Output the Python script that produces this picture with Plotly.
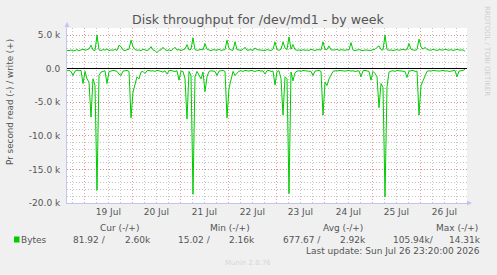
import plotly.graph_objects as go
import pandas as pd

# ---------------- data ----------------
start = pd.Timestamp("2026-07-18 15:20")
end = pd.Timestamp("2026-07-26 23:20")

# write (+) bytes per second, in thousands, hourly samples
write_k = [
    2.75, 2.70, 2.80, 2.65, 2.72, 2.85, 2.70, 2.78, 2.90, 2.75,
    2.82, 2.95, 3.50, 2.80, 2.70, 5.00, 2.80, 2.72, 2.85, 2.78,
    2.95, 2.70, 2.80, 2.75, 2.88, 2.72, 3.50, 3.30, 2.80, 2.70,
    2.85, 2.90, 4.25, 3.30, 2.85, 2.75, 2.80, 2.70, 2.90, 2.78,
    2.72, 2.85, 3.30, 2.80, 2.70, 2.40, 2.75, 2.80, 3.20, 2.85,
    2.72, 2.80, 2.70, 2.90, 3.20, 2.78, 2.85, 2.70, 2.80, 2.95,
    3.60, 2.80, 2.90, 4.60, 2.85, 2.75, 2.80, 2.90, 2.80, 3.75,
    2.90, 2.78, 2.70, 2.85, 2.80, 2.75, 2.90, 2.72, 2.80, 2.85,
    4.25, 3.00, 2.80, 2.75, 4.00, 2.85, 2.80, 2.72, 2.90, 3.20,
    2.75, 2.80, 2.85, 2.70, 3.10, 2.85, 2.78, 2.80, 2.75, 2.70,
    2.85, 2.78, 2.72, 2.90, 4.00, 2.85, 2.75, 2.90, 4.00, 3.10,
    2.85, 4.75, 2.90, 3.60, 2.85, 2.75, 2.80, 2.70, 2.85, 2.75,
    2.80, 2.72, 2.90, 2.80, 2.70, 2.85, 2.78, 2.80, 4.00, 2.90,
    2.85, 3.40, 2.80, 2.75, 2.80, 2.90, 2.72, 2.85, 2.80, 2.75,
    2.85, 2.78, 3.90, 2.80, 2.72, 2.80, 2.85, 2.75, 2.70, 2.80,
    2.75, 2.80, 2.72, 2.85, 2.90, 3.20, 3.40, 2.85, 2.80, 5.00,
    2.85, 2.75, 2.80, 2.72, 2.80, 2.85, 2.75, 2.80, 2.90, 2.80,
    2.85, 3.75, 2.90, 2.80, 2.75, 2.85, 4.40, 3.30, 2.90, 3.20,
    2.85, 2.80, 2.75, 2.90, 2.80, 2.72, 2.85, 2.80, 2.78, 2.90,
    2.80, 2.75, 2.85, 2.72, 2.80, 2.90, 2.78, 2.75, 2.80, 2.60,
]

# read (-) bytes per second, in thousands, hourly samples
read_k = [
    0.30, 0.25, 0.40, 1.00, 0.35, 0.20, 0.30, 0.25, 2.20, 0.40,
    1.50, 2.00, 7.20, 1.50, 2.50, 18.10, 1.00, 0.50, 0.40, 0.30,
    2.20, 0.40, 0.35, 0.25, 0.30, 0.40, 0.80, 1.00, 0.35, 0.30,
    0.25, 0.40, 7.30, 3.50, 2.50, 1.20, 1.50, 0.50, 0.40, 0.70,
    0.30, 0.25, 0.35, 0.30, 0.40, 0.25, 0.30, 0.35, 0.50, 0.30,
    0.80, 0.30, 0.25, 0.35, 0.40, 0.30, 1.70, 0.35, 0.40, 1.50,
    7.50, 0.40, 1.00, 18.70, 1.20, 0.40, 1.00, 1.50, 0.50, 3.40,
    1.20, 0.40, 0.30, 0.35, 0.40, 1.00, 0.35, 0.30, 0.25, 0.40,
    7.30, 2.90, 1.50, 0.40, 1.00, 0.70, 0.35, 0.30, 0.40, 0.25,
    0.30, 0.35, 0.25, 0.30, 0.40, 0.30, 0.25, 0.35, 0.30, 0.80,
    0.30, 0.25, 0.40, 0.35, 2.40, 0.40, 0.30, 1.50, 6.90, 1.20,
    1.50, 18.60, 0.50, 1.80, 0.60, 0.35, 0.30, 0.40, 0.25, 0.30,
    0.35, 0.30, 0.40, 1.00, 0.35, 0.30, 0.25, 0.40, 6.90, 2.00,
    2.50, 1.50, 1.00, 0.40, 0.30, 0.35, 0.25, 0.30, 0.40, 0.35,
    0.30, 0.25, 0.35, 0.30, 0.40, 0.35, 0.30, 1.20, 0.30, 0.25,
    0.35, 0.40, 1.70, 0.40, 0.70, 1.20, 5.80, 2.20, 2.80, 19.10,
    2.70, 0.50, 0.35, 0.30, 0.40, 0.25, 0.30, 0.35, 0.30, 0.40,
    1.30, 0.35, 0.30, 0.25, 0.40, 0.35, 6.90, 2.50, 1.80, 1.00,
    0.40, 0.30, 0.35, 0.25, 0.30, 0.40, 0.35, 0.30, 0.25, 0.35,
    0.30, 0.40, 0.35, 0.30, 0.25, 1.20, 0.35, 0.30, 0.25, 0.08,
]

times = pd.date_range(start, periods=len(write_k), freq="h")

y_tickvals = [5000, 0, -5000, -10000, -15000, -20000]
y_ticktext = ["5.0 k", "0.0", "-5.0 k", "-10.0 k", "-15.0 k", "-20.0 k"]

title_text = "Disk throughput for /dev/md1 - by week"
ylabel_text = "Pr second read (-) / write (+)"
series_name = "Bytes"
legend_headers = ["Cur (-/+)", "Min (-/+)", "Avg (-/+)", "Max (-/+)"]
legend_read = ["81.92 /", "15.02 /", "677.67 /", "105.94k/"]
legend_write = ["2.60k", "2.16k", "2.92k", "14.31k"]
last_update = "Last update: Sun Jul 26 23:20:00 2026"
watermark = "RRDTOOL / TOBI OETIKER"
munin_ver = "Munin 2.0.76"

# ---------------- layout helpers ----------------
W, H = 497, 275
L, R, T, B = 67, 30, 28, 72
PW, PH = W - L - R, H - T - B


def px(xp):
    return (xp - L) / PW


def py(yp):
    return (H - B - yp) / PH


FONT = "DejaVu Sans"
TXT = "#555555"
GREEN = "#00cc00"
MAJ = "rgba(230,120,120,0.75)"
MIN = "rgba(150,150,150,0.55)"
AXC = "#c4c4f0"
DASH = "1px,2px"

fig = go.Figure()
fig.add_trace(go.Scatter(x=times, y=[v * 1000 for v in write_k], mode="lines",
                         line=dict(color=GREEN, width=1), hoverinfo="skip"))
fig.add_trace(go.Scatter(x=times, y=[-v * 1000 for v in read_k], mode="lines",
                         line=dict(color=GREEN, width=1), hoverinfo="skip"))

annos = []


def txt(s, x, y, size=9, color=TXT, xanchor="right", yanchor="middle", angle=0):
    annos.append(dict(text=s, x=px(x), y=py(y), xref="paper", yref="paper",
                      showarrow=False, xanchor=xanchor, yanchor=yanchor,
                      textangle=angle, font=dict(family=FONT, size=size, color=color)))


txt(title_text, 258, 20, size=12.6, xanchor="center")
txt(ylabel_text, 10, 102, size=8.8, xanchor="center", angle=-90)
txt(watermark, 487, 51, size=7, color="#cfcfcf", xanchor="center", angle=90)

head_right = [140.5, 252, 365, 480]
read_right = [108, 213, 322.5, 435.5]
write_right = [152.7, 257, 368.3, 482.7]
for h, xr in zip(legend_headers, head_right):
    txt(h, xr, 227.5)
for s, xr in zip(legend_read, read_right):
    txt(s, xr, 239.5)
for s, xr in zip(legend_write, write_right):
    txt(s, xr, 239.5)
txt(series_name, 19, 239.5, xanchor="left")
txt(last_update, 482, 251)
txt(munin_ver, 248, 262.5, size=7, color="#d6d6d6", xanchor="center")

# axis arrows
annos.append(dict(x=0, y=1, xref="paper", yref="paper", text="", showarrow=True,
                  ax=0, ay=7, axref="pixel", ayref="pixel", yshift=6,
                  arrowhead=2, arrowsize=1, arrowwidth=1, arrowcolor=AXC))
annos.append(dict(x=1, y=0, xref="paper", yref="paper", text="", showarrow=True,
                  ax=-7, ay=0, axref="pixel", ayref="pixel", xshift=5,
                  arrowhead=2, arrowsize=1, arrowwidth=1, arrowcolor=AXC))

fig.update_layout(
    width=W, height=H,
    margin=dict(l=L, r=R, t=T, b=B, pad=0),
    paper_bgcolor="#f0f0f0", plot_bgcolor="#ffffff",
    showlegend=False, hovermode=False,
    annotations=annos,
    shapes=[dict(type="rect", xref="paper", yref="paper",
                 x0=px(14), x1=px(19.5), y0=py(242.5), y1=py(236.5),
                 fillcolor=GREEN, line=dict(width=0))],
    font=dict(family=FONT, size=9, color=TXT),
)

fig.update_xaxes(
    type="date", range=[start, end],
    tick0="2026-07-19", dtick=86400000, ticklabelmode="period",
    tickformat="%d %b", ticks="", showgrid=True, gridcolor=MAJ, griddash=DASH,
    gridwidth=1, showline=True, linecolor=AXC, linewidth=1,
    tickfont=dict(family=FONT, size=9, color=TXT),
    minor=dict(dtick=6 * 3600 * 1000, showgrid=True, gridcolor=MIN,
               griddash=DASH, gridwidth=1),
    zeroline=False, fixedrange=True,
)
fig.update_yaxes(
    range=[-20000, 6070], tickvals=y_tickvals, ticktext=y_ticktext,
    ticks="", showgrid=True, gridcolor=MAJ, griddash=DASH, gridwidth=1,
    showline=True, linecolor=AXC, linewidth=1,
    zeroline=True, zerolinecolor="#000000", zerolinewidth=1,
    ticklabelstandoff=4,
    tickfont=dict(family=FONT, size=9, color=TXT),
    minor=dict(dtick=1000, tick0=0, showgrid=True, gridcolor=MIN,
               griddash=DASH, gridwidth=1),
    fixedrange=True,
)

fig.write_html("out.html")
